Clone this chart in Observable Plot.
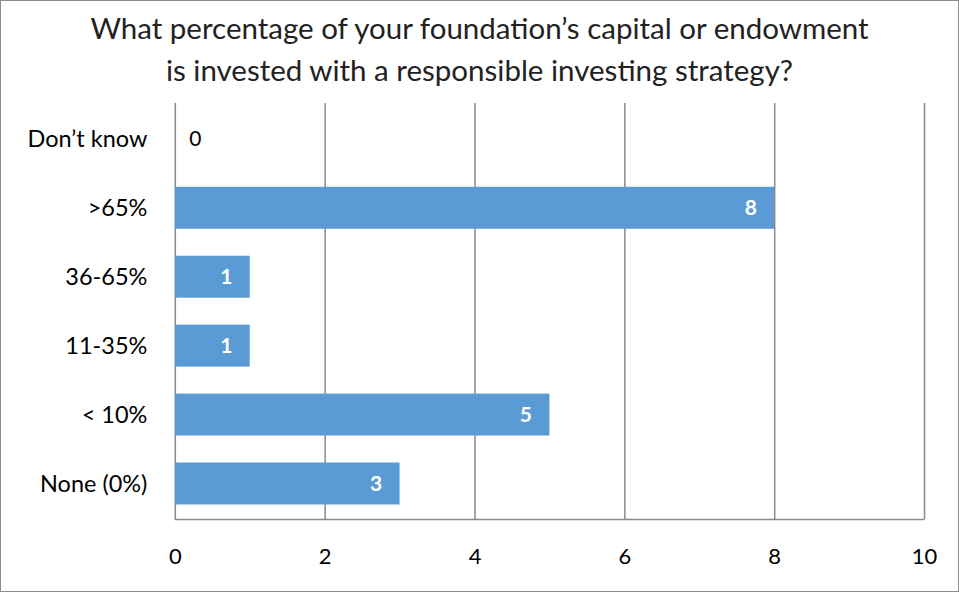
<!DOCTYPE html>
<html><head><meta charset="utf-8">
<script src="https://cdn.jsdelivr.net/npm/d3@7"></script>
<script src="https://cdn.jsdelivr.net/npm/@observablehq/plot@0.6"></script>
<style>
html,body{margin:0;padding:0;background:#fff;}
#wrap{position:relative;width:957px;height:590px;border:1px solid #8c8c8c;overflow:hidden;}
#title{position:absolute;left:0;top:6px;width:957px;text-align:center;font-family:Lato,"Open Sans",sans-serif;font-size:29.5px;line-height:42px;color:#222;}
#chart{position:absolute;left:-1px;top:-1px;}
</style></head>
<body>
<div id="wrap"><div id="chart"></div><div id="title">What percentage of your foundation’s capital or endowment<br>is invested with a responsible investing strategy?</div></div>
<script>
const categories = ["Don’t know", ">65%", "36-65%", "11-35%", "< 10%", "None (0%)"];
const values = [0, 8, 1, 1, 5, 3];
const xTicks = [0, 2, 4, 6, 8, 10];

const data = categories.map((c, i) => ({category: c, value: values[i]}));
const font = "Lato, 'Open Sans', sans-serif";

const chart = Plot.plot({
  width: 959,
  height: 592,
  marginLeft: 175,
  marginRight: 34,
  marginTop: 103,
  marginBottom: 72,
  style: {fontFamily: font, fontSize: "22px", color: "#000", background: "transparent"},
  x: {domain: [0, 10], ticks: xTicks, tickSize: 0, tickPadding: 29, label: null, tickFormat: d => d},
  y: {domain: categories, paddingInner: 0.396, paddingOuter: 0.198, tickSize: 0, tickPadding: 28, label: null},
  marks: [
    Plot.ruleX(xTicks, {stroke: "#8a8a8a", strokeWidth: 1.5}),
    Plot.barX(data, {x: "value", y: "category", fill: "#5b9bd5"}),
    Plot.text(data.filter(d => d.value > 0), {x: "value", y: "category", text: d => String(d.value), dx: -24, fill: "#fff", fontWeight: "bold", fontSize: 21}),
    Plot.text(data.filter(d => d.value === 0), {x: "value", y: "category", text: d => String(d.value), dx: 20, fill: "#000", fontSize: 21}),
    Plot.axisX({ticks: xTicks, tickSize: 0, tickPadding: 28, label: null, fontSize: 22}),
    Plot.axisY({tickSize: 0, tickPadding: 28, label: null, fontSize: 23.5})
  ]
});
document.getElementById("chart").append(chart);
const svg = d3.select(chart);
svg.append("line").attr("x1", 175).attr("x2", 925).attr("y1", 520).attr("y2", 520).attr("stroke", "#8a8a8a").attr("stroke-width", 1.5);
</script>
</body></html>
